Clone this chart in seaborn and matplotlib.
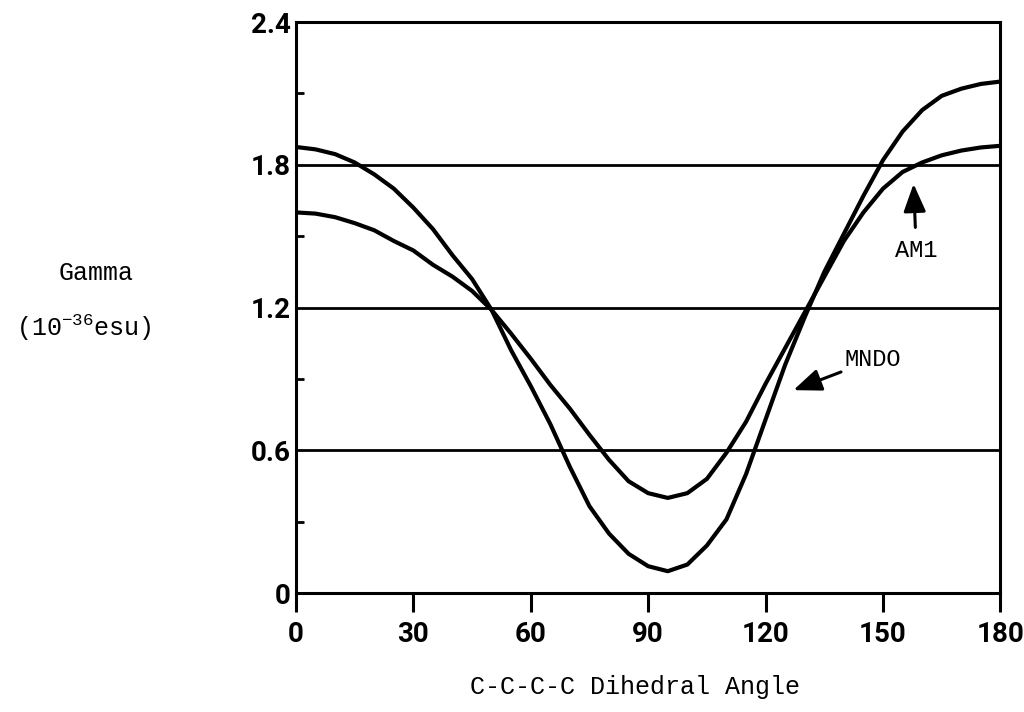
import numpy as np
import pandas as pd
import matplotlib
matplotlib.use("Agg")
import matplotlib.pyplot as plt
import seaborn as sns

# ---- data ----
angles = [0, 5, 10, 15, 20, 25, 30, 35, 40, 45, 50, 55, 60, 65, 70, 75, 80, 85, 90,
          95, 100, 105, 110, 115, 120, 125, 130, 135, 140, 145, 150, 155, 160, 165,
          170, 175, 180]
mndo = [1.875, 1.865, 1.845, 1.81, 1.76, 1.70, 1.62, 1.53, 1.42, 1.32, 1.19, 1.02,
        0.87, 0.71, 0.53, 0.365, 0.25, 0.165, 0.113, 0.092, 0.12, 0.20, 0.31, 0.50,
        0.73, 0.96, 1.16, 1.35, 1.51, 1.67, 1.82, 1.94, 2.03, 2.09, 2.12, 2.14, 2.15]
am1 = [1.60, 1.595, 1.58, 1.555, 1.525, 1.48, 1.44, 1.38, 1.33, 1.27, 1.19, 1.09,
       0.985, 0.875, 0.775, 0.665, 0.56, 0.47, 0.42, 0.40, 0.42, 0.48, 0.59, 0.72,
       0.88, 1.03, 1.18, 1.33, 1.48, 1.60, 1.70, 1.77, 1.81, 1.84, 1.86, 1.873, 1.88]
x_ticks = [0, 30, 60, 90, 120, 150, 180]
y_ticks = [0, 0.6, 1.2, 1.8, 2.4]
y_tick_labels = ["0", "0.6", "1.2", "1.8", "2.4"]
y_minor = [0.3, 0.9, 1.5, 2.1]

df = pd.DataFrame({
    "angle": angles * 2,
    "gamma": mndo + am1,
    "method": ["MNDO"] * len(angles) + ["AM1"] * len(angles),
})

sns.set_style("ticks")
plt.rcParams["font.family"] = ["DejaVu Sans"]
for k in ["text.color", "xtick.color", "ytick.color", "axes.edgecolor", "axes.labelcolor"]:
    plt.rcParams[k] = "black"

fig = plt.figure(figsize=(10.24, 7.12), dpi=100)
ax = fig.add_axes([0.289, 0.167, 0.688, 0.802])

sns.lineplot(data=df, x="angle", y="gamma", units="method", estimator=None,
             color="black", linewidth=3.0, ax=ax, legend=False, sort=False)

ax.set_xlim(0, 180)
ax.set_ylim(0, 2.4)
ax.set_xticks(x_ticks)
ax.set_yticks(y_ticks)
ax.set_yticklabels(y_tick_labels)
ax.set_yticks(y_minor, minor=True)

for lab in ax.get_xticklabels() + ax.get_yticklabels():
    lab.set_fontfamily(["Roboto", "DejaVu Sans"])
    lab.set_fontweight("bold")
    lab.set_fontsize(20)
    lab.set_color("black")

ax.tick_params(axis="x", direction="out", length=14, width=2.2, pad=6, color="black")
ax.tick_params(axis="y", which="major", direction="in", length=0, pad=4)
ax.tick_params(axis="y", which="minor", direction="in", length=6, width=2.0, color="black")

ax.yaxis.grid(True, which="major", color="black", linewidth=2.0)
ax.xaxis.grid(False)
for s in ax.spines.values():
    s.set_visible(True)
    s.set_linewidth(2.2)
    s.set_color("black")

ax.set_xlabel("")
ax.set_ylabel("")

mono = ["Liberation Mono", "DejaVu Sans Mono"]
fig.text(0.620, 0.035, "C-C-C-C Dihedral Angle", family=mono, fontsize=18,
         ha="center", va="center")
fig.text(0.094, 0.617, "Gamma", family=mono, fontsize=18, ha="center", va="center")
fig.text(0.082, 0.540, r"(10$^{\mathregular{-36}}$esu)", family=mono, fontsize=18,
         ha="center", va="center")

ax.annotate("MNDO", xy=(127.1, 0.853), xytext=(140.1, 0.98), family=mono,
            fontsize=17, ha="left", va="center",
            arrowprops=dict(arrowstyle="-|>,head_length=1.0,head_width=0.4",
                            color="black", lw=2.2, shrinkA=0, shrinkB=0))
ax.annotate("AM1", xy=(157.8, 1.72), xytext=(158.5, 1.44), family=mono,
            fontsize=17, ha="center", va="center",
            arrowprops=dict(arrowstyle="-|>,head_length=1.0,head_width=0.4",
                            color="black", lw=2.2, shrinkA=6, shrinkB=0))

fig.savefig("out.png", dpi=100)
